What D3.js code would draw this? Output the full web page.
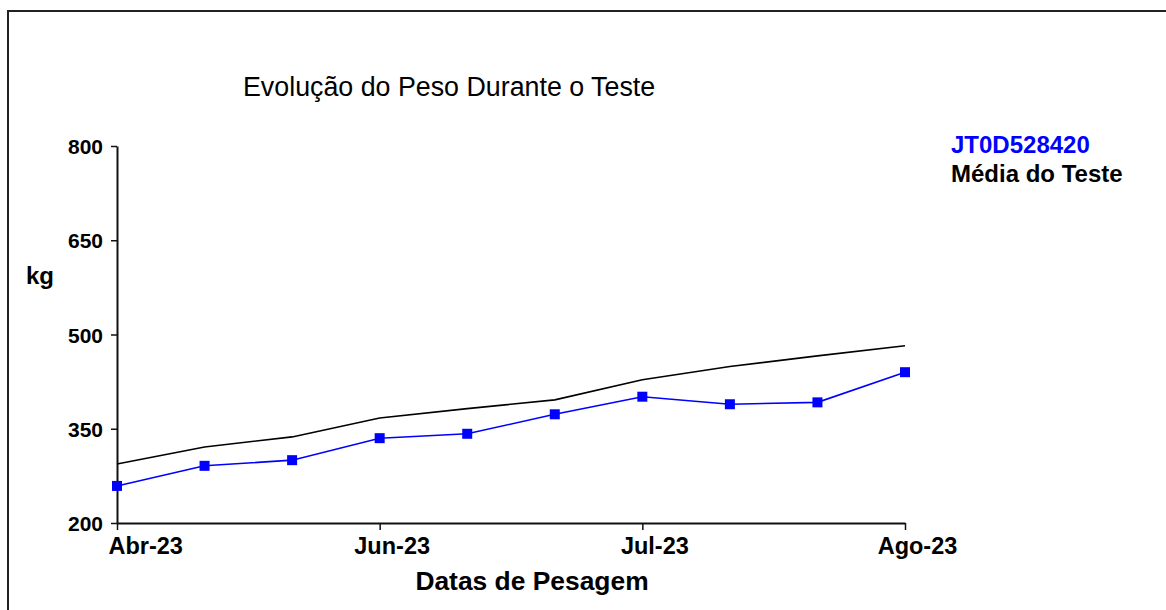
<!DOCTYPE html>
<html lang="pt">
  <head>
    <meta charset="utf-8">
    <script type="text/javascript" src="https://cdn.jsdelivr.net/npm/d3@7"></script>
    <style>
      body { margin: 0; background: #fff; }
      svg { font-family: "Liberation Sans", Arial, sans-serif; }
    </style>
  </head>
  <body>
    <svg class="chart"></svg>
  </body>
  <script type="text/javascript">
    // pesagens (10 datas), so algumas com rotulo
    var dates = ['Abr-23','','','Jun-23','','','Jul-23','','','Ago-23'];
    var animal = [259, 291, 300, 335, 342, 373, 401, 389, 392, 440];
    var media = [294, 321, 337, 367, 382, 396, 428, 449, 466, 482];
    var yTicks = [200, 350, 500, 650, 800];
    var seriesNames = ['JT0D528420', 'Média do Teste'];
    var seriesColors = ['#0000ff', '#000000'];

    var screenWidth = 1166, screenHeight = 610;
    var svg = d3.select('.chart')
                .attr('width', screenWidth)
                .attr('height', screenHeight);

    var margins = { top: 146, bottom: 87, left: 117, right: 261 };
    var width = screenWidth - margins.left - margins.right;
    var height = screenHeight - margins.top - margins.bottom;

    // moldura (so topo e esquerda aparecem)
    svg.append('path')
       .attr('d', 'M8,610 V11 H1166')
       .attr('fill', 'none')
       .attr('stroke', '#222')
       .attr('stroke-width', 2);

    var idx = d3.range(dates.length);
    var xScale = d3.scalePoint()
                   .domain(idx)
                   .range([0, width]);
    var yScale = d3.scaleLinear()
                   .domain([200, 800])
                   .range([height, 0]);

    var plot = svg.append('g')
                  .attr('transform', 'translate(' + margins.left + ',' + margins.top + ')');

    // eixos
    var xAxis = d3.axisBottom(xScale)
                  .tickValues(idx.filter(function(i){ return dates[i] !== ''; }))
                  .tickFormat(function(i){ return dates[i]; })
                  .tickSize(7)
                  .tickSizeOuter(0);
    var gx = plot.append('g').attr('class', 'xAxis')
                 .attr('transform', 'translate(0,' + height + ')')
                 .call(xAxis);
    gx.select('.domain').attr('stroke', '#111').attr('stroke-width', 2);
    gx.selectAll('.tick line').attr('stroke', '#111').attr('stroke-width', 1.5);
    gx.selectAll('.tick text')
      .attr('y', 31)
      .attr('dy', 0)
      .attr('dx', function(i){ return i === 0 ? -9 : 12; })
      .attr('text-anchor', function(i){ return i === 0 ? 'start' : 'middle'; })
      .attr('fill', '#000')
      .style('font-size', '23.5px')
      .style('font-weight', 'bold');

    var yAxis = d3.axisLeft(yScale)
                  .tickValues(yTicks)
                  .tickSize(6)
                  .tickSizeOuter(0);
    var gy = plot.append('g').attr('class', 'yAxis').call(yAxis);
    gy.select('.domain').attr('stroke', '#111').attr('stroke-width', 2);
    gy.selectAll('.tick line').attr('stroke', '#111').attr('stroke-width', 1.5);
    gy.selectAll('.tick text')
      .attr('x', -14)
      .attr('dy', '0.36em')
      .attr('fill', '#000')
      .style('font-size', '21px')
      .style('font-weight', 'bold');

    // linhas
    var line = d3.line()
                 .x(function(d, i){ return xScale(i); })
                 .y(function(d){ return yScale(d); });

    plot.append('path')
        .datum(media)
        .attr('d', line)
        .attr('fill', 'none')
        .attr('stroke', seriesColors[1])
        .attr('stroke-width', 1.6);

    plot.append('path')
        .datum(animal)
        .attr('d', line)
        .attr('fill', 'none')
        .attr('stroke', seriesColors[0])
        .attr('stroke-width', 1.6);

    plot.selectAll('rect.pt')
        .data(animal)
        .enter()
        .append('rect')
        .attr('class', 'pt')
        .attr('x', function(d, i){ return xScale(i) - 5; })
        .attr('y', function(d){ return yScale(d) - 5; })
        .attr('width', 10)
        .attr('height', 10)
        .attr('fill', seriesColors[0]);

    // textos
    svg.append('text')
       .attr('x', 243)
       .attr('y', 96)
       .style('font-size', '26.8px')
       .text('Evolução do Peso Durante o Teste');

    svg.append('text')
       .attr('x', 26)
       .attr('y', 284)
       .style('font-size', '24px')
       .style('font-weight', 'bold')
       .text('kg');

    svg.append('text')
       .attr('x', 532)
       .attr('y', 590)
       .attr('text-anchor', 'middle')
       .style('font-size', '26.4px')
       .style('font-weight', 'bold')
       .text('Datas de Pesagem');

    var legend = svg.append('g')
                    .attr('transform', 'translate(951,153)');
    legend.selectAll('text')
          .data(seriesNames)
          .enter()
          .append('text')
          .attr('x', 0)
          .attr('y', function(d, i){ return i * 29; })
          .attr('fill', function(d, i){ return seriesColors[i]; })
          .style('font-size', '24px')
          .style('font-weight', 'bold')
          .text(function(d){ return d; });
  </script>
</html>
